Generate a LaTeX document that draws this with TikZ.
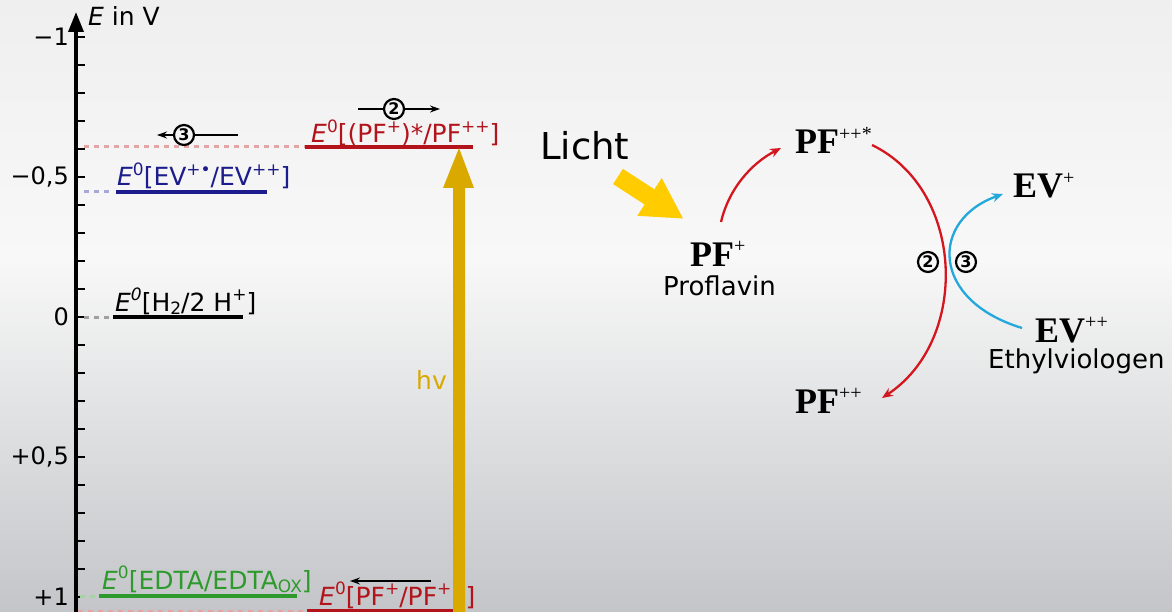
\documentclass[tikz,border=0pt]{standalone}
\usepackage{fontspec}
\setmainfont{DejaVu Sans}
\newfontfamily\chemfont{Liberation Serif}
\usetikzlibrary{arrows.meta}
\definecolor{bgtop}{HTML}{EFEFEF}
\definecolor{bgmid}{HTML}{F8F8F8}
\definecolor{bgbot}{HTML}{C3C5C8}
\definecolor{pfred}{HTML}{B3141C}
\definecolor{pfdash}{HTML}{E2A4A4}
\definecolor{evblue}{HTML}{1C1C8C}
\definecolor{evdash}{HTML}{A8A8D8}
\definecolor{hgray}{HTML}{A0A0A0}
\definecolor{edtagreen}{HTML}{2E9A2E}
\definecolor{edtadash}{HTML}{A6D4A6}
\definecolor{hvgold}{HTML}{D9A900}
\definecolor{lichtgold}{HTML}{FFCC00}
\definecolor{arcred}{HTML}{D4161E}
\definecolor{arcblue}{HTML}{22A8DA}
\newcommand\myfs[1]{\fontsize{#1}{#1}\selectfont}
\newcommand\up[1]{\raisebox{0.42em}{\myfs{17}#1}}
\newcommand\dn[1]{\raisebox{-0.14em}{\myfs{17}#1}}
\newcommand\chup[1]{\raisebox{0.38em}{\mdseries\myfs{20}#1}}
\tikzset{
  lbl/.style={inner sep=0pt, font=\myfs{25}},
  ticklbl/.style={inner sep=0pt, anchor=east, font=\myfs{24}},
  level/.style={line width=3.6pt},
  dashlevel/.style={line width=3pt, dash pattern=on 5pt off 5pt},
  circnum/.style={circle, draw, line width=2.2pt, inner sep=0pt, minimum size=20pt, font=\bfseries\myfs{16}},
  smallarrow/.style={line width=1.5pt},
  chem/.style={inner sep=0pt, font=\chemfont\bfseries\myfs{36}},
  sub/.style={inner sep=0pt, font=\myfs{26}},
  reaction/.style={line width=2.3pt, -{Stealth[length=11pt,width=9pt]}},
}
\begin{document}
\begin{tikzpicture}[x=1pt,y=-1pt]
\useasboundingbox (0,0) rectangle (1172,612);
\shade[top color=bgtop, bottom color=bgmid] (0,0) rectangle (1172,260);
\shade[top color=bgmid, bottom color=bgbot] (0,259.5) rectangle (1172,612);

% axis
\draw[line width=3.5pt, -{Triangle[length=20pt,width=15pt]}] (76,612) -- (76,12);
\foreach \k in {0,...,20} {
  \draw[line width=2.2pt] (76,37+28*\k) -- (85,37+28*\k);
}
\node[lbl, anchor=base west] (axlbl) at (88,26) {\textit{E} in V};
\node[ticklbl] (t1) at (69,37) {−1};
\node[ticklbl] (t2) at (69,177) {−0,5};
\node[ticklbl] (t3) at (69,317) {0};
\node[ticklbl] (t4) at (69,457) {+0,5};
\node[ticklbl] (t5) at (69,597) {+1};

% level PF+* / PF++
\draw[dashlevel, pfdash] (84,147) -- (305,147);
\draw[level, pfred] (305,147) -- (473,147);
\node[lbl, text=pfred, anchor=base west] (lpfs) at (311,143) {\textit{E}\up{0}[(PF\up{+})*/PF\up{++}]};

% level EV
\draw[dashlevel, evdash] (84,192) -- (112,192);
\draw[level, evblue] (116,192) -- (267,192);
\node[lbl, text=evblue, anchor=base west] (lev) at (117,186) {\textit{E}\up{0}[EV\up{+•}/EV\up{++}]};

% level H2
\draw[dashlevel, hgray] (84,317) -- (110,317);
\draw[level, black] (113,317) -- (243,317);
\node[lbl, anchor=base west] (lh) at (115,311) {\textit{E}\up{\textit{0}}[H\dn{2}/2 H\up{+}]};

% level EDTA
\draw[dashlevel, edtadash] (80,596) -- (97,596);
\draw[level, edtagreen] (99,596) -- (297,596);
\node[lbl, text=edtagreen, anchor=base west] (ledta) at (102,589) {\textit{E}\up{0}[EDTA/EDTA\dn{OX}]};

% level PF+ / PF++
\draw[dashlevel, pfdash] (78,611) -- (305,611);
\draw[level, pfred] (307,611) -- (465,611);
\node[lbl, text=pfred, anchor=base west] (lpf) at (319,605) {\textit{E}\up{0}[PF\up{+}/PF\up{++}]};

% arrow 2
\node[circnum] (c2a) at (394,109) {2};
\coordinate (a2s) at (358,109);
\coordinate (a2e) at (440,109);
\draw[smallarrow] (a2s) -- (c2a.west);
\draw[smallarrow, -{Stealth[length=10pt,width=7pt]}] (c2a.east) -- (a2e);

% arrow 3
\node[circnum] (c3a) at (184,135) {3};
\coordinate (a3s) at (238,135);
\coordinate (a3e) at (157,135);
\draw[smallarrow] (a3s) -- (c3a.east);
\draw[smallarrow, -{Stealth[length=10pt,width=7pt]}] (c3a.west) -- (a3e);

% arrow bottom
\coordinate (abs) at (431,581);
\coordinate (abe) at (350,581);
\draw[smallarrow, -{Stealth[length=10pt,width=7pt]}] (abs) -- (abe);

% hv arrow
\fill[hvgold] (453,612) -- (453,188) -- (443,188) -- (459,148) -- (474,188) -- (465,188) -- (465,612) -- cycle;
\node[lbl, text=hvgold, anchor=base east] (hv) at (447,389) {hv};

% right side
\node[inner sep=0pt, anchor=base west, font=\myfs{37}] (licht) at (540,160) {Licht};
\fill[lichtgold] (622.9,168.9) -- (654.4,189.3) -- (661.7,178.0) -- (683,218.5) -- (637.3,215.8) -- (644.6,204.5) -- (613.1,184.1) -- cycle;

\node[chem, anchor=base west] (pf) at (690,266) {PF\chup{+}};
\node[sub, anchor=base west] (prof) at (663,295) {Proflavin};
\node[chem, anchor=base west] (pfs) at (795,154) {PF\chup{++*}};
\node[chem, anchor=base west] (evp) at (1013,198) {EV\chup{+}};
\node[chem, anchor=base west] (evpp) at (1035,342) {EV\chup{++}};
\node[sub, anchor=base west] (ethyl) at (988,368) {Ethylviologen};
\node[chem, anchor=base west] (pfpp) at (795,413) {PF\chup{++}};

\node[circnum] (c2b) at (928,262) {2};
\node[circnum] (c3b) at (966,262) {3};

\coordinate (r1s) at (721,222);
\coordinate (r1e) at (781,148);
\draw[reaction, arcred] (r1s) .. controls (729,188) and (752,163) .. (r1e);
\coordinate (r2s) at (872,145);
\coordinate (r2e) at (882,398);
\draw[reaction, arcred] (r2s) .. controls (965,190) and (970,340) .. (r2e);
\coordinate (b1s) at (1022,328);
\coordinate (b1e) at (1003,194);
\draw[reaction, arcblue] (b1s) .. controls (930,300) and (930,220) .. (b1e);
\end{tikzpicture}
\end{document}
